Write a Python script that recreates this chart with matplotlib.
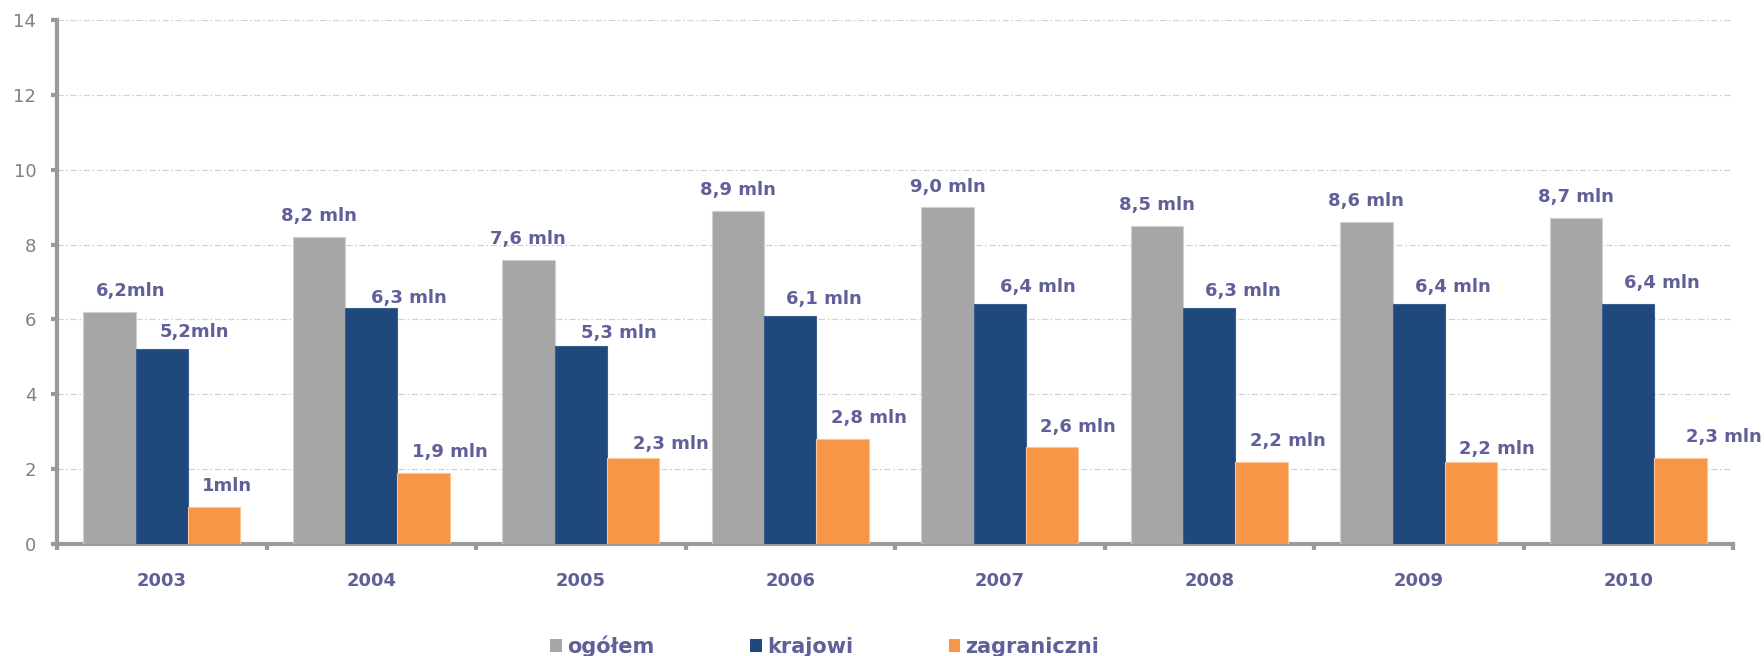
import matplotlib
matplotlib.use("Agg")
import matplotlib.pyplot as plt
from matplotlib.patches import Patch
import numpy as np

# --- data -------------------------------------------------------------
years = ["2003", "2004", "2005", "2006", "2007", "2008", "2009", "2010"]
ogolem = [6.2, 8.2, 7.6, 8.9, 9.0, 8.5, 8.6, 8.7]
krajowi = [5.2, 6.3, 5.3, 6.1, 6.4, 6.3, 6.4, 6.4]
zagraniczni = [1.0, 1.9, 2.3, 2.8, 2.6, 2.2, 2.2, 2.3]
series_names = ["ogółem", "krajowi", "zagraniczni"]
y_ticks = [0, 2, 4, 6, 8, 10, 12, 14]

# --- style ------------------------------------------------------------
colors = ["#A6A6A6", "#1F497D", "#F79646"]
edge_colors = ["#D0D0D0", "#3A5F8F", "#FBC59A"]
label_color = "#5F5F99"
axis_color = "#9A9A9A"

# label placement (pixels): horizontal shift from bar centre, gap above bar
label_dx = [
    [21, 0, 0, 0, 0, 0, 0, 0],
    [33, 38, 38, 34, 38, 34, 34, 34],
    [13, 26, 38, 26, 26, 26, 26, 43],
]
label_gap = [
    [16, 16, 16, 16, 15, 16, 16, 16],
    [12, 5, 8, 12, 12, 12, 12, 16],
    [16, 16, 9, 16, 15, 16, 8, 16],
]


def fmt_label(v, compact):
    s = f"{v:.1f}".replace(".", ",")
    if compact:
        if s.endswith(",0"):
            s = s[:-2]
        return s + "mln"
    return s + " mln"


plt.rcParams["font.family"] = ["DejaVu Sans"]

W, H, DPI = 1764, 656, 100
fig = plt.figure(figsize=(W / DPI, H / DPI), dpi=DPI)
ax = fig.add_axes([57 / W, 1 - 544 / H, 1676 / W, 524 / H])

n = len(years)
x = np.arange(n)
bw = 0.25
all_series = [ogolem, krajowi, zagraniczni]
px2pt = 72 / DPI

for k, vals in enumerate(all_series):
    xs = x + (k - 1) * bw
    ax.bar(xs, vals, width=bw, color=colors[k], edgecolor=edge_colors[k],
           linewidth=0.8, zorder=3, label=series_names[k])
    for i, v in enumerate(vals):
        ax.annotate(fmt_label(v, i == 0), xy=(xs[i], v),
                    xytext=(label_dx[k][i] * px2pt, label_gap[k][i] * px2pt),
                    textcoords="offset points", ha="center", va="baseline",
                    fontsize=13, fontweight="bold", color=label_color,
                    annotation_clip=False, zorder=4)

ax.set_xlim(-0.5, n - 0.5)
ax.set_ylim(0, 14)

# gridlines
ax.set_yticks(y_ticks)
ax.yaxis.grid(True, color="#D2D2D2", linewidth=0.9,
              linestyle=(0, (5, 2, 1.5, 2)), zorder=0)
ax.set_axisbelow(True)

# spines
for side in ["top", "right"]:
    ax.spines[side].set_visible(False)
for side in ["left", "bottom"]:
    ax.spines[side].set_color(axis_color)
    ax.spines[side].set_linewidth(3)

# y ticks
ax.tick_params(axis="y", which="major", direction="out", length=4, width=3,
               color=axis_color, pad=11, labelsize=13, labelcolor="#808080")

# x: boundary ticks (major) and year labels (minor)
ax.set_xticks(np.arange(n + 1) - 0.5)
ax.set_xticklabels([])
ax.tick_params(axis="x", which="major", direction="out", length=4, width=3,
               color=axis_color)
ax.set_xticks(x, minor=True)
ax.set_xticklabels(years, minor=True, fontsize=13, fontweight="bold",
                   color=label_color)
ax.tick_params(axis="x", which="minor", length=0, pad=20)

# legend
handles = [Patch(facecolor=c, edgecolor="none") for c in colors]
fig.legend(handles, series_names, loc="center left",
           bbox_to_anchor=(540 / W, 10 / H), ncol=3, frameon=False,
           borderpad=0, handlelength=0.55, handleheight=0.55,
           handletextpad=0.25, columnspacing=4.6,
           prop={"size": 15, "weight": "bold"}, labelcolor=label_color)

fig.savefig("out.png", dpi=DPI)
